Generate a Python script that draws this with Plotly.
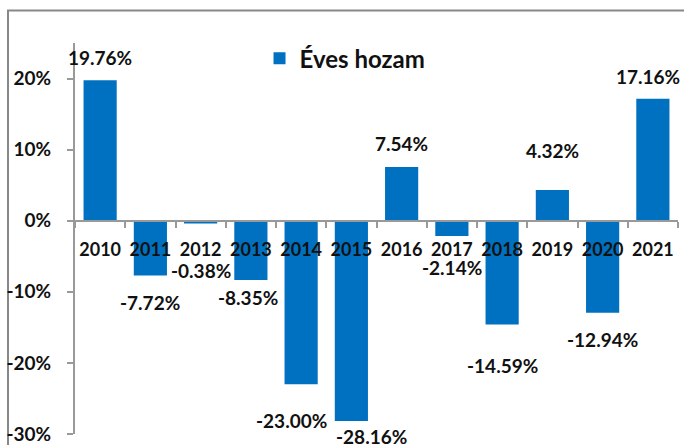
import plotly.graph_objects as go

years = ["2010", "2011", "2012", "2013", "2014", "2015", "2016", "2017", "2018", "2019", "2020", "2021"]
returns = [19.76, -7.72, -0.38, -8.35, -23.00, -28.16, 7.54, -2.14, -14.59, 4.32, -12.94, 17.16]
series_name = "Éves hozam"
y_ticks = [-30, -20, -10, 0, 10, 20]
y_tick_labels = ["-30%", "-20%", "-10%", "0%", "10%", "20%"]

# label placement style (pixel offsets from bar end)
label_yshift = [23, -27, -47, -17, -36, -16, 24, -32, -41, 40, -27, 22]
label_xshift = [0, 0, 0, -3, -10, 20, 0, 0, 0, 0, 0, -5]

Y_MIN, Y_MAX = -30, 25
BLUE = "#0070C0"
FONT = "Lato"

fig = go.Figure()
fig.add_trace(go.Bar(
    x=years, y=returns, name=series_name,
    marker=dict(color=BLUE, line=dict(width=0)),
    showlegend=True,
))

for i, (v, dy, dx) in enumerate(zip(returns, label_yshift, label_xshift)):
    fig.add_annotation(
        x=i, y=v, text=f"<b>{v:.2f}%</b>", showarrow=False,
        yshift=dy, xshift=dx, yanchor="middle", xanchor="center",
        font=dict(family=FONT, size=19, color="#111111"),
    )

zero_pos = (0 - Y_MIN) / (Y_MAX - Y_MIN)

fig.update_layout(
    width=684, height=445,
    margin=dict(l=75, r=6, t=42.5, b=10.75, autoexpand=False),
    paper_bgcolor="white", plot_bgcolor="white",
    bargap=0.34,
    font=dict(family=FONT, size=18, color="#111111"),
    legend=dict(
        x=0.306, y=0.96, xanchor="left", yanchor="middle",
        orientation="h", bgcolor="rgba(0,0,0,0)",
        font=dict(family=FONT, size=24, color="#111111", weight="bold"),
        itemwidth=30,
    ),
    xaxis=dict(
        type="category", anchor="free", position=zero_pos,
        range=[-0.5, len(years) - 0.5], automargin=False,
        showline=True, linecolor="#999999", linewidth=2,
        ticks="outside", tickson="boundaries", ticklen=6, tickcolor="#999999", tickwidth=2,
        tickangle=0, ticklabelstandoff=13,
        tickfont=dict(family=FONT, size=18, color="#111111", weight="bold"),
        showgrid=False, zeroline=False,
    ),
    yaxis=dict(
        range=[Y_MIN, Y_MAX], tickvals=y_ticks, ticktext=y_tick_labels, automargin=False,
        showline=True, linecolor="#999999", linewidth=2,
        ticks="outside", ticklen=6, tickcolor="#999999", tickwidth=2,
        ticklabelstandoff=12,
        tickfont=dict(family=FONT, size=19, color="#111111", weight="bold"),
        showgrid=False, zeroline=False,
    ),
    shapes=[dict(
        type="rect", xref="paper", yref="paper",
        x0=(8 - 75) / 603, x1=1.2, y0=-0.2, y1=1 + 32.5 / 391.75,
        line=dict(color="#888888", width=2), fillcolor="rgba(0,0,0,0)", layer="below",
    )],
)

fig.write_html(
    "out.html",
    config={"displayModeBar": False},
    post_script="document.body.style.margin='0';document.body.style.overflow='hidden';",
)
